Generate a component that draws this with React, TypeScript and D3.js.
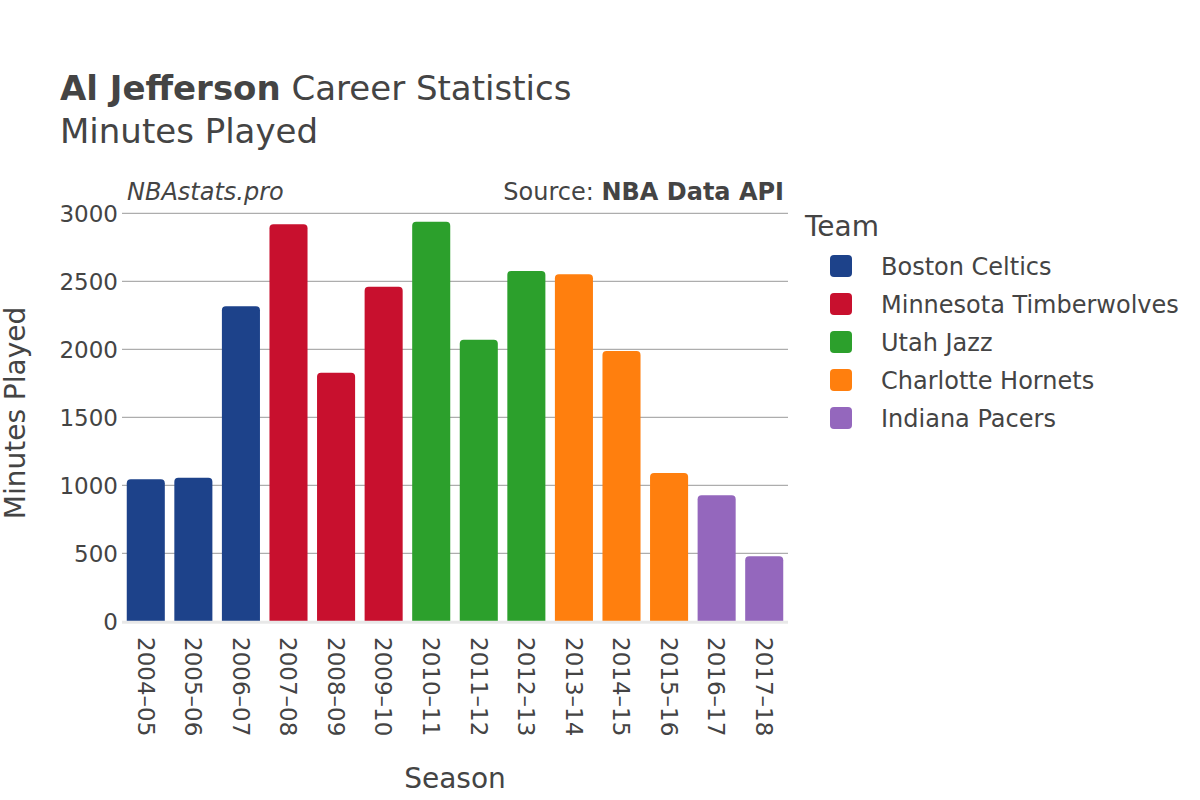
import * as d3 from 'd3';
import React from 'react';

const seasons = [
  '2004–05', '2005–06', '2006–07', '2007–08', '2008–09', '2009–10', '2010–11',
  '2011–12', '2012–13', '2013–14', '2014–15', '2015–16', '2016–17', '2017–18',
];
const minutes = [1044, 1056, 2316, 2919, 1828, 2460, 2938, 2071, 2576, 2551, 1988, 1090, 926, 478];
const seasonTeams = [
  'Boston Celtics', 'Boston Celtics', 'Boston Celtics',
  'Minnesota Timberwolves', 'Minnesota Timberwolves', 'Minnesota Timberwolves',
  'Utah Jazz', 'Utah Jazz', 'Utah Jazz',
  'Charlotte Hornets', 'Charlotte Hornets', 'Charlotte Hornets',
  'Indiana Pacers', 'Indiana Pacers',
];
const teams = ['Boston Celtics', 'Minnesota Timberwolves', 'Utah Jazz', 'Charlotte Hornets', 'Indiana Pacers'];
const teamColors = ['#1d428a', '#c8102e', '#2ca02c', '#ff7f0e', '#9467bd'];
const yTicks = [0, 500, 1000, 1500, 2000, 2500, 3000];

const font = '"DejaVu Sans", sans-serif';
const textColor = '#444';

export default function App() {
  const width = 1200;
  const height = 800;
  const left = 122;
  const right = 788;
  const top = 213.3;
  const bottom = 621.3;

  const x = d3.scaleBand().domain(seasons).range([left, right]).paddingInner(0.2).paddingOuter(0.1);
  const y = d3.scaleLinear().domain([0, 3000]).range([bottom, top]);
  const color = d3.scaleOrdinal<string, string>().domain(teams).range(teamColors);

  return (
    <svg width={width} height={height} style={{ position: 'absolute', left: 0, top: 0, fontFamily: font }}>
      <rect width={width} height={height} fill="#fff" />
      <text x={60} y={100} fontSize={34} fill={textColor}>
        <tspan fontWeight="bold">Al Jefferson</tspan> Career Statistics
      </text>
      <text x={60} y={143} fontSize={34} fill={textColor}>Minutes Played</text>

      {yTicks.filter((t) => t > 0).map((t) => (
        <line key={t} x1={left} x2={right} y1={y(t)} y2={y(t)} stroke="#999" strokeWidth={1} />
      ))}
      {yTicks.map((t) => (
        <text key={t} x={left - 4} y={y(t)} dy="0.36em" textAnchor="end" fontSize={23} fill={textColor}>
          {t}
        </text>
      ))}

      <text x={127} y={200} fontSize={24} fontStyle="italic" fill={textColor}>NBAstats.pro</text>
      <text x={784} y={200} fontSize={24} textAnchor="end" fill={textColor}>
        Source: <tspan fontWeight="bold">NBA Data API</tspan>
      </text>

      {seasons.map((s, i) => {
        const bx = x(s) as number;
        const by = y(minutes[i]);
        const bw = x.bandwidth();
        const bh = bottom - by;
        const r = 4;
        const path = `M${bx},${bottom}V${by + r}Q${bx},${by} ${bx + r},${by}H${bx + bw - r}Q${bx + bw},${by} ${bx + bw},${by + r}V${bottom}Z`;
        return <path key={s} d={bh > 0 ? path : ''} fill={color(seasonTeams[i])} />;
      })}
      <line x1={left} x2={right} y1={bottom + 1} y2={bottom + 1} stroke="#e8e8e8" strokeWidth={3} />

      {seasons.map((s) => {
        const cx = (x(s) as number) + x.bandwidth() / 2;
        return (
          <text key={s} transform={`translate(${cx},637) rotate(90)`} dy="0.36em" fontSize={23} fill={textColor}>
            {s}
          </text>
        );
      })}

      <text x={455} y={788} textAnchor="middle" fontSize={28} fill={textColor}>Season</text>
      <text transform="translate(15,413) rotate(-90)" textAnchor="middle" dy="0.36em" fontSize={28} fill={textColor}>
        Minutes Played
      </text>

      <text x={805} y={236} fontSize={28} fill={textColor}>Team</text>
      {teams.map((t, i) => (
        <g key={t} transform={`translate(830,${266 + i * 38})`}>
          <rect x={0} y={-11} width={22} height={22} rx={4} fill={color(t)} />
          <text x={51} y={0} dy="0.36em" fontSize={24} fill={textColor}>{t}</text>
        </g>
      ))}
    </svg>
  );
}
